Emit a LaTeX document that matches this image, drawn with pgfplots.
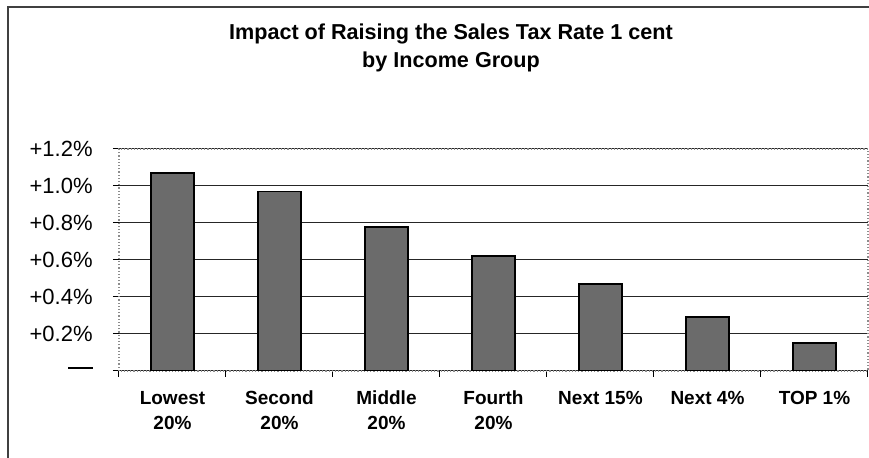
\documentclass[border=0pt]{standalone}
\usepackage{fontspec}
\setmainfont{Liberation Sans}
\usepackage{pgfplots}
\pgfplotsset{compat=1.18}
\begin{document}
\begin{tikzpicture}
\useasboundingbox (-59.5pt,-43.5pt) rectangle (375pt,185.5pt);
\draw[black!75, line width=0.6pt] (-55.5pt,-50pt) -- (-55.5pt,182pt) -- (380pt,182pt);
\node[font=\bfseries\fontsize{10.8}{12}\selectfont, anchor=base] at (166pt,165.5pt) {Impact of Raising the Sales Tax Rate 1 cent};
\node[font=\bfseries\fontsize{10.8}{12}\selectfont, anchor=base] at (166pt,151.5pt) {by Income Group};
\begin{axis}[
  at={(0,0)}, anchor=south west, scale only axis,
  width=374.5pt, height=111pt,
  xmin=-0.5, xmax=6.5, ymin=0, ymax=1.2,
  ybar, bar width=21.5pt,
  /pgf/number format/assume math mode=true,
  ytick={0,0.2,0.4,0.6,0.8,1.0,1.2},
  yticklabels={\rule[0.25em]{1.1em}{0.09em},+0.2\%,+0.4\%,+0.6\%,+0.8\%,+1.0\%,+1.2\%},
  ymajorgrids, major grid style={black!85, line width=0.5pt},
  xtick={-0.5,0.5,1.5,2.5,3.5,4.5,5.5,6.5},
  xticklabels={,,,,,,,,},
  extra x ticks={0,1,2,3,4,5,6},
  extra x tick labels={\strut Lowest\\20\%,\strut Second\\20\%,\strut Middle\\20\%,\strut Fourth\\20\%,\strut Next 15\%,\strut Next 4\%,\strut TOP 1\%},
  extra x tick style={major tick length=0pt},
  tick pos=left,
  tick align=outside, major tick length=3pt,
  tick style={black, line width=0.5pt},
  axis line style={black!45, densely dotted, line width=0.6pt},
  yticklabel style={font=\fontsize{11}{12}\selectfont, inner sep=0pt, xshift=-10pt},
  xticklabel style={font=\bfseries\fontsize{9.5}{12.5}\selectfont, align=center, anchor=north, inner sep=0pt, yshift=-8pt},
]
\addplot[fill=black!58, draw=black, line width=0.9pt] coordinates {(0,1.07) (1,0.97) (2,0.78) (3,0.62) (4,0.47) (5,0.29) (6,0.15)};
\end{axis}
\end{tikzpicture}
\end{document}
